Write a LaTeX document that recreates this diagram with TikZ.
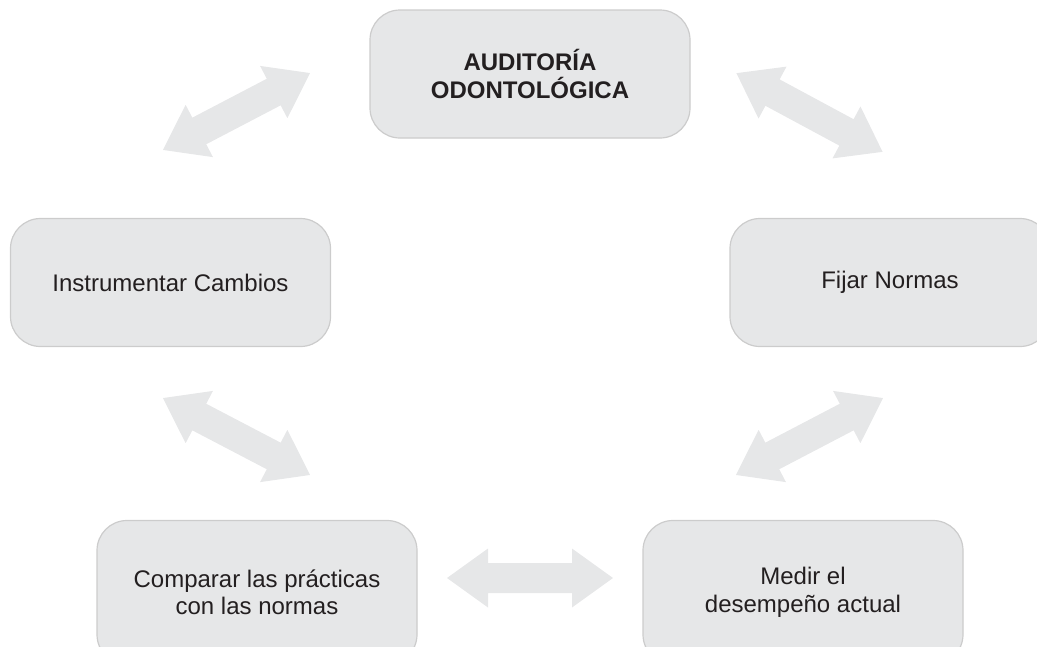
\documentclass[tikz,border=0pt]{standalone}
\usepackage{fontspec}
\setmainfont{Liberation Sans}
\definecolor{boxfill}{HTML}{E6E7E8}
\definecolor{boxline}{HTML}{CCCCCC}
\definecolor{txt}{HTML}{231F20}
\tikzset{
  stepbox/.style={draw=boxline, fill=boxfill, line width=1.2pt, rounded corners=30pt,
    minimum width=320pt, minimum height=128pt, text=txt, align=center,
    font=\fontsize{24}{27.5}\selectfont},
  fatarrow/.style={fill=boxfill, draw=none}
}
\newcommand\fatarr[3]{%
  \begin{scope}[shift={#1}, rotate=#2]
    \coordinate (#3) at (0,0);
    \path[fatarrow] (-83,0) -- (-42,-29.5) -- (-42,-15) -- (42,-15) -- (42,-29.5) -- (83,0)
      -- (42,29.5) -- (42,15) -- (-42,15) -- (-42,29.5) -- cycle;
  \end{scope}}
\begin{document}
\begin{tikzpicture}[x=1pt,y=-1pt]
\useasboundingbox (0,0) rectangle (1037,646);
\clip (0,0) rectangle (1037,646);
\node[stepbox, font=\fontsize{24}{27.5}\selectfont\bfseries] (aud) at (530,74) {AUDITORÍA\\ODONTOLÓGICA};
\node[stepbox] (inst) at (170.5,282.5) {Instrumentar Cambios};
\node[stepbox] (fijar) at (890,282.5) {Fijar Normas};
\node[stepbox, minimum height=144pt] (comp) at (257,592.5) {Comparar las prácticas\\con las normas};
\node[stepbox, minimum height=144pt] (medir) at (803,592.5) {Medir el\\desempeño actual};
\fatarr{(236.5,111.5)}{27.6}{a1}
\fatarr{(809.5,112.5)}{-28.3}{a2}
\fatarr{(809.5,436.5)}{27.6}{a3}
\fatarr{(530,578)}{0}{a4}
\fatarr{(236.5,436.5)}{-27.6}{a5}
\end{tikzpicture}
\end{document}
